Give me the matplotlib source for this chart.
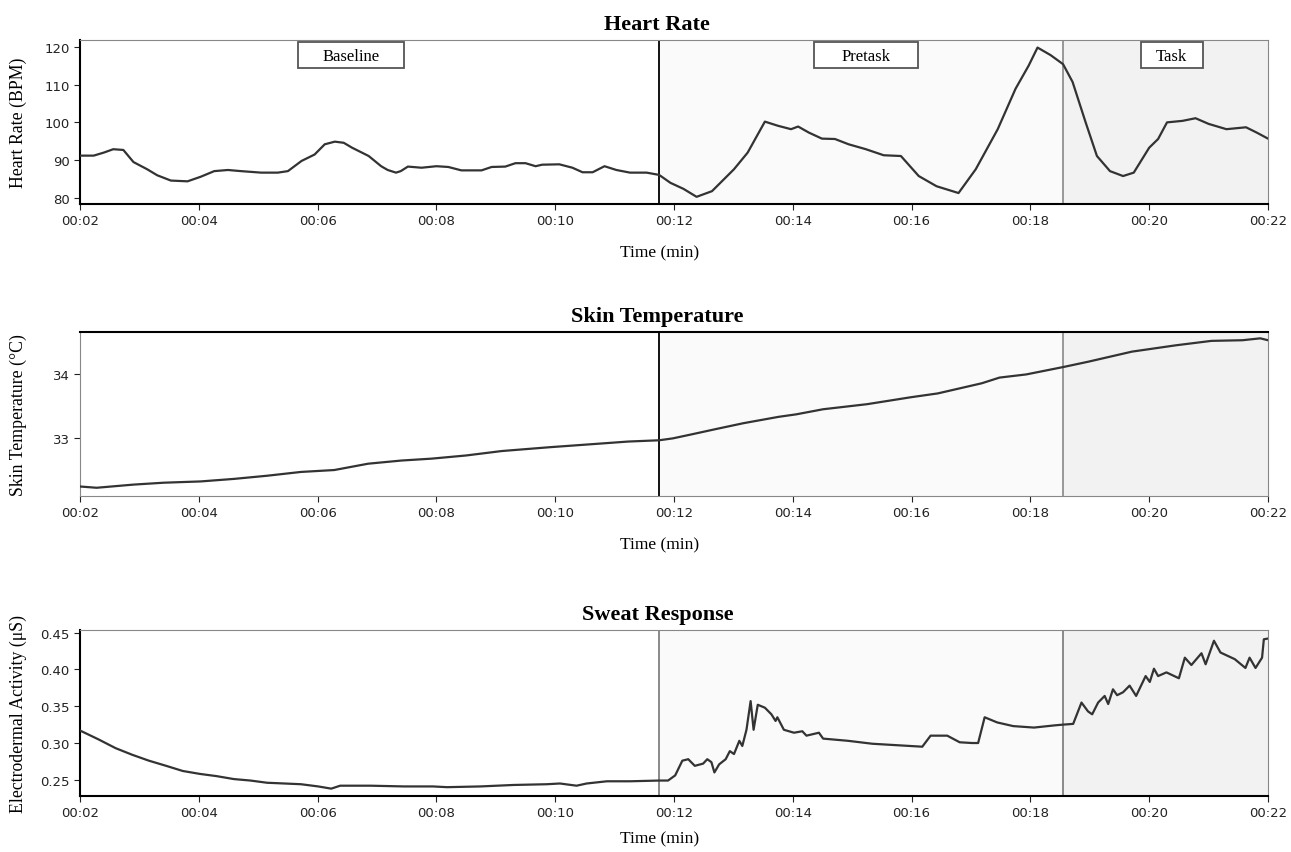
import matplotlib
matplotlib.use("Agg")
import matplotlib.pyplot as plt
from matplotlib.patches import Rectangle
from matplotlib.ticker import FuncFormatter, FormatStrFormatter

# phase boundaries (minutes)
baseline_end = 11.75
pretask_end = 18.55
t_start, t_end = 2, 22

# Heart rate (BPM)
hr_time = [2.0, 2.23, 2.4, 2.56, 2.73, 2.9, 3.13, 3.3, 3.53, 3.81, 4.03, 4.26, 4.49,
           4.71, 5.05, 5.33, 5.5, 5.73, 5.95, 6.12, 6.29, 6.44, 6.58, 6.86, 7.07,
           7.18, 7.32, 7.4, 7.52, 7.75, 8.0, 8.2, 8.42, 8.76, 8.93, 9.16, 9.33,
           9.5, 9.67, 9.78, 10.07, 10.29, 10.46, 10.63, 10.83, 11.03, 11.26, 11.54,
           11.75, 11.94, 12.16, 12.38, 12.64, 13.01, 13.24, 13.53, 13.75, 13.97,
           14.09, 14.27, 14.49, 14.71, 14.94, 15.23, 15.53, 15.82, 16.12, 16.42,
           16.79, 17.08, 17.45, 17.75, 17.97, 18.12, 18.34, 18.55, 18.71, 18.93, 19.12,
           19.34, 19.56, 19.74, 20.0, 20.15, 20.3, 20.56, 20.78, 21.0, 21.3,
           21.63, 21.81, 22.0]
hr_value = [91.2, 91.2, 92.0, 92.9, 92.7, 89.5, 87.6, 86.0, 84.6, 84.4, 85.6, 87.1, 87.4,
            87.1, 86.7, 86.7, 87.1, 89.8, 91.5, 94.2, 94.9, 94.6, 93.3, 91.1, 88.4,
            87.4, 86.7, 87.1, 88.3, 88.0, 88.4, 88.2, 87.3, 87.3, 88.2, 88.3, 89.2,
            89.2, 88.4, 88.8, 88.9, 88.0, 86.8, 86.8, 88.4, 87.4, 86.7, 86.7,
            86.1, 84.0, 82.4, 80.3, 81.8, 87.6, 92.0, 100.2, 99.1, 98.2,
            98.9, 97.3, 95.7, 95.6, 94.2, 92.9, 91.3, 91.1, 85.8, 83.1,
            81.3, 87.6, 98.2, 108.9, 115.0, 119.8, 117.8, 115.4, 110.7, 100.0, 91.1,
            87.1, 85.8, 86.7, 93.3, 95.6, 100.0, 100.4, 101.1, 99.6, 98.2,
            98.7, 97.3, 95.7]

# Skin temperature (°C)
st_time = [2.0, 2.28, 2.9, 3.41, 4.03, 4.59, 5.15, 5.72, 6.28, 6.85, 7.41, 7.92, 8.5,
           9.1, 9.9, 10.79, 11.23, 11.75, 11.98, 12.28, 12.72, 13.17, 13.76, 14.06,
           14.51, 15.25, 15.99, 16.44, 17.18, 17.48, 17.93, 18.57, 18.97, 19.71,
           20.45, 21.05, 21.57, 21.87, 22.0]
st_value = [32.23, 32.21, 32.26, 32.29, 32.31, 32.35, 32.40, 32.46, 32.49, 32.59, 32.64,
            32.67, 32.72, 32.79, 32.85, 32.91, 32.94, 32.96, 32.99, 33.05, 33.14, 33.23,
            33.33, 33.37, 33.45, 33.53, 33.64, 33.70, 33.86, 33.95, 34.00, 34.12, 34.20,
            34.36, 34.46, 34.53, 34.54, 34.57, 34.54]

# Electrodermal activity (µS)
eda_time = [2.0, 2.31, 2.6, 2.88, 3.16, 3.45, 3.73, 4.02, 4.3, 4.59, 4.87, 5.15, 5.44,
            5.72, 6.01, 6.23, 6.38, 6.89, 7.46, 7.94, 8.18, 8.74, 9.3, 9.86, 10.08,
            10.36, 10.53, 10.87, 11.26, 11.75, 11.9, 12.02, 12.14, 12.24, 12.35, 12.49,
            12.56, 12.63, 12.68, 12.76, 12.87, 12.94, 13.01, 13.1, 13.15, 13.22, 13.29,
            13.34, 13.41, 13.53, 13.64, 13.71, 13.74, 13.85, 14.02, 14.16, 14.23, 14.44,
            14.51, 14.93, 15.34, 15.76, 16.18, 16.32, 16.6, 16.81, 17.02, 17.12, 17.23,
            17.44, 17.71, 18.06, 18.41, 18.55, 18.72, 18.86, 18.97, 19.04, 19.14, 19.25,
            19.31, 19.39, 19.46, 19.56, 19.67, 19.78, 19.94, 20.01, 20.08, 20.15, 20.29,
            20.5, 20.6, 20.71, 20.88, 20.95, 21.09, 21.2, 21.44, 21.62, 21.69, 21.79,
            21.9, 21.93, 22.0]
eda_value = [0.317, 0.305, 0.293, 0.284, 0.276, 0.269, 0.262, 0.258, 0.255, 0.251, 0.249,
             0.246, 0.245, 0.244, 0.241, 0.238, 0.242, 0.242, 0.241, 0.241, 0.240, 0.241,
             0.243, 0.244, 0.245, 0.242, 0.245, 0.248, 0.248, 0.249, 0.249, 0.256, 0.276,
             0.278, 0.269, 0.272, 0.278, 0.274, 0.260, 0.271, 0.278, 0.289, 0.285, 0.303,
             0.296, 0.318, 0.357, 0.318, 0.352, 0.348, 0.339, 0.330, 0.335, 0.318, 0.314,
             0.316, 0.310, 0.314, 0.306, 0.303, 0.299, 0.297, 0.295, 0.310, 0.310, 0.301,
             0.300, 0.300, 0.335, 0.328, 0.323, 0.321, 0.324, 0.325, 0.326, 0.355, 0.343,
             0.339, 0.355, 0.364, 0.353, 0.373, 0.365, 0.369, 0.378, 0.364, 0.391, 0.383,
             0.401, 0.391, 0.396, 0.388, 0.416, 0.406, 0.422, 0.407, 0.439, 0.423, 0.414,
             0.402, 0.416, 0.402, 0.416, 0.441, 0.442]

phase_names = ["Baseline", "Pretask", "Task"]
phase_box_start = [5.67, 14.36, 19.86]
phase_box_end = [7.45, 16.10, 20.90]

plt.rcParams["font.family"] = ["Liberation Serif", "DejaVu Serif"]

fig = plt.figure(figsize=(12.91, 8.53), dpi=100)
left, width = 80 / 1291, 1188 / 1291
ax1 = fig.add_axes([left, 1 - 205 / 853, width, 164 / 853])
ax2 = fig.add_axes([left, 1 - 497 / 853, width, 164 / 853])
ax3 = fig.add_axes([left, 1 - 797 / 853, width, 166 / 853])

line_color = "#333333"
panels = [
    (ax1, hr_time, hr_value, "Heart Rate", "Heart Rate (BPM)", (78.4, 121.8), 12),
    (ax2, st_time, st_value, "Skin Temperature", "Skin Temperature (°C)", (32.08, 34.67), 12),
    (ax3, eda_time, eda_value, "Sweat Response", "Electrodermal Activity (μS)", (0.228, 0.4536), 8),
]

time_fmt = FuncFormatter(lambda v, pos: "00:%02d" % int(round(v)))

for ax, t, v, title, ylab, ylim, xpad in panels:
    ax.axvspan(baseline_end, pretask_end, color="#fafafa", zorder=0)
    ax.axvspan(pretask_end, t_end, color="#f2f2f2", zorder=0)
    ax.plot(t, v, color=line_color, lw=1.6, zorder=3,
            solid_joinstyle="round", solid_capstyle="round")
    ax.set_xlim(t_start, t_end)
    ax.set_ylim(*ylim)
    ax.set_xticks(range(2, 23, 2))
    ax.xaxis.set_major_formatter(time_fmt)
    ax.set_title(title, fontsize=16, fontweight="bold", x=0.486, pad=8)
    ax.set_xlabel("Time (min)", fontsize=12.5, labelpad=xpad, x=0.488)
    ax.set_ylabel(ylab, fontsize=12.8)
    ax.yaxis.set_label_coords(-0.045, 0.5)
    ax.tick_params(labelsize=9.5, colors="#222222", length=4)
    for lab in ax.get_xticklabels() + ax.get_yticklabels():
        lab.set_family("DejaVu Sans")

# first panel: dividers and phase labels
ax1.axvline(baseline_end, color="black", lw=1.3, zorder=2)
ax1.axvline(pretask_end, color="#888888", lw=1.2, zorder=2)
ax1.set_yticks([80, 90, 100, 110, 120])
trans = ax1.get_xaxis_transform()
for name, x0, x1 in zip(phase_names, phase_box_start, phase_box_end):
    ax1.add_patch(Rectangle((x0, 0.83), x1 - x0, 0.158, transform=trans,
                            fc="white", ec="#555555", lw=1.3, zorder=4))
    ax1.text((x0 + x1) / 2, 0.905, name, transform=trans, ha="center", va="center",
             fontsize=12, zorder=5)
for s in ["left", "bottom"]:
    ax1.spines[s].set_color("black")
    ax1.spines[s].set_linewidth(1.5)
for s in ["top", "right"]:
    ax1.spines[s].set_color("#888888")

ax2.axvline(baseline_end, color="black", lw=1.3, zorder=2)
ax2.axvline(pretask_end, color="#888888", lw=1.2, zorder=2)
ax2.set_yticks([33, 34])
ax2.spines["top"].set_color("black")
ax2.spines["top"].set_linewidth(1.5)
for s in ["left", "bottom", "right"]:
    ax2.spines[s].set_color("#888888")

ax3.axvline(baseline_end, color="#777777", lw=1.2, zorder=2)
ax3.axvline(pretask_end, color="#777777", lw=1.2, zorder=2)
ax3.set_yticks([0.25, 0.30, 0.35, 0.40, 0.45])
ax3.yaxis.set_major_formatter(FormatStrFormatter("%.2f"))
for s in ["left", "bottom"]:
    ax3.spines[s].set_color("black")
    ax3.spines[s].set_linewidth(1.5)
for s in ["top", "right"]:
    ax3.spines[s].set_color("#888888")

fig.savefig("out.png", dpi=100)
